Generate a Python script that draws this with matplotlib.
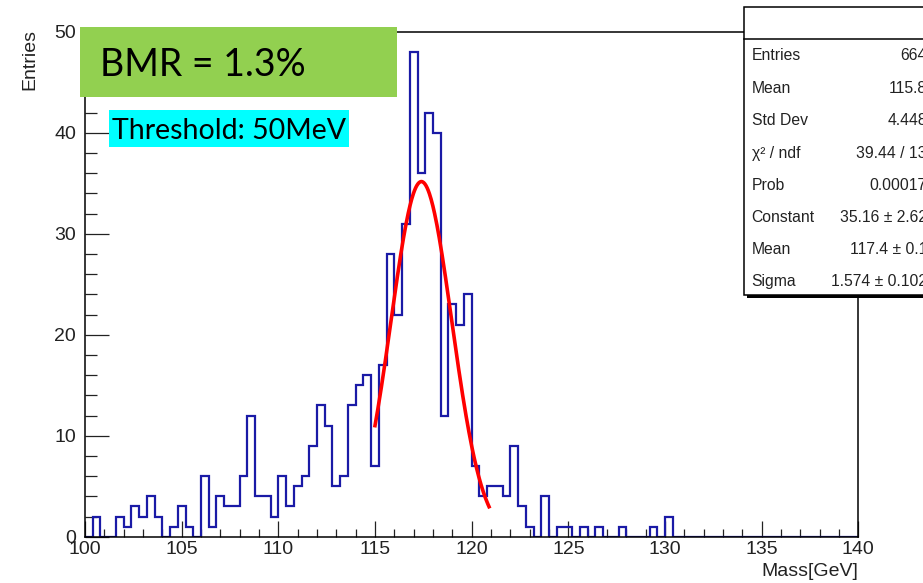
import numpy as np
import matplotlib
matplotlib.use("Agg")
from matplotlib import pyplot as plt
from matplotlib.patches import Rectangle

# histogram: 100 bins of 0.4 GeV between 100 and 140 GeV
x_min = 100
x_max = 140
n_bins = 100
counts = [0, 2, 0, 0, 2, 1, 3, 2, 4, 2,
          0, 1, 3, 1, 0, 6, 1, 4, 3, 3,
          6, 12, 4, 4, 2, 6, 3, 5, 6, 9,
          13, 11, 5, 6, 13, 15, 16, 7, 17, 28,
          22, 31, 48, 36, 42, 40, 12, 23, 21, 24,
          7, 4, 5, 5, 4, 9, 3, 1, 0, 4,
          0, 1, 1, 0, 1, 0, 1, 0, 0, 1,
          0, 0, 0, 1, 0, 2, 0, 0, 0, 0,
          0, 0, 0, 0, 0, 0, 0, 0, 0, 0,
          0, 0, 0, 0, 0, 0, 0, 0, 0, 0]

# gaussian fit result (from stat box)
fit_const = 35.16
fit_mean = 117.4
fit_sigma = 1.574
fit_lo = 115.0
fit_hi = 120.9

stat_names = ["Entries", "Mean", "Std Dev", "\u03c7\u00b2 / ndf", "Prob",
              "Constant", "Mean", "Sigma"]
stat_values = ["664", "115.8", "4.448", "39.44 / 13", "0.00017",
               "35.16 \u00b1 2.62", "117.4 \u00b1 0.1", "1.574 \u00b1 0.102"]

W, H = 923, 583
fig = plt.figure(figsize=(W / 100, H / 100), dpi=100)
ax = fig.add_axes([85 / W, (H - 536.7) / H, 773.3 / W, 505 / H])

edges = np.linspace(x_min, x_max, n_bins + 1)
ax.stairs(counts, edges, color='#1a1aa6', linewidth=1.6, zorder=2)

xf = np.linspace(fit_lo, fit_hi, 200)
yf = fit_const * np.exp(-0.5 * ((xf - fit_mean) / fit_sigma) ** 2)
ax.plot(xf, yf, color='red', linewidth=2.6, zorder=3)

ax.set_xlim(x_min, x_max)
ax.set_ylim(0, 50)
ax.set_xticks(range(100, 141, 5))
ax.set_xticks(range(100, 141, 1), minor=True)
ax.set_yticks(range(0, 51, 10))
ax.set_yticks(range(0, 51, 2), minor=True)
ax.tick_params(which='both', direction='in', width=0.9, labelsize=14,
               top=False, right=False, colors='#222222')
ax.tick_params(axis='x', which='major', length=11.5, pad=3)
ax.tick_params(axis='x', which='minor', length=5.8)
ax.tick_params(axis='y', which='major', length=17, pad=6.5)
ax.tick_params(axis='y', which='minor', length=8.5)
for lab in ax.get_xticklabels() + ax.get_yticklabels():
    lab.set_fontfamily('Liberation Sans')
for s in ax.spines.values():
    s.set_linewidth(1.1)
    s.set_zorder(4)

fig.text(30 / W, (H - 29) / H, "Entries", rotation=90, ha='center', va='top',
         fontsize=14, family='Liberation Sans', color='#222222')
fig.text(858 / W, (H - 572) / H, "Mass[GeV]", ha='right', va='center',
         fontsize=14, family='Liberation Sans', color='#222222')

# stat box (runs off the right edge)
fig.add_artist(Rectangle((746.5 / W, (H - 297.5) / H), 200 / W, 288 / H,
                         transform=fig.transFigure, facecolor='black',
                         edgecolor='none', zorder=6))
fig.add_artist(Rectangle((744 / W, (H - 295) / H), 200 / W, 288 / H,
                         transform=fig.transFigure, facecolor='white',
                         edgecolor='black', linewidth=1.1, zorder=7))
fig.add_artist(plt.Line2D([744 / W, 1], [(H - 39.3) / H, (H - 39.3) / H],
                          transform=fig.transFigure, color='black',
                          linewidth=1.1, zorder=8))
row_y = [56, 88.3, 120.7, 153.3, 185.7, 217.3, 250, 281.7]
for name, val, yy in zip(stat_names, stat_values, row_y):
    fig.text(751.5 / W, (H - yy) / H, name, ha='left', va='center',
             fontsize=11.3, family='Liberation Sans', zorder=9, color='#222222')
    fig.text(927 / W, (H - yy) / H, val, ha='right', va='center',
             fontsize=11.3, family='Liberation Sans', zorder=9, color='#222222')

# annotation boxes
fig.add_artist(Rectangle((80 / W, (H - 97.3) / H), 316.7 / W, 70.6 / H,
                         transform=fig.transFigure, facecolor='#92D050',
                         edgecolor='none', zorder=10))
fig.text(100 / W, (H - 76) / H, "BMR = 1.3%", ha='left', va='baseline',
         fontsize=27, family='Lato', zorder=11)
fig.add_artist(Rectangle((109 / W, (H - 147.3) / H), 240 / W, 37.3 / H,
                         transform=fig.transFigure, facecolor='#00FFFF',
                         edgecolor='none', zorder=10))
fig.text(112 / W, (H - 139.3) / H, "Threshold: 50MeV", ha='left',
         va='baseline', fontsize=20.5, family='Lato', zorder=11)

plt.savefig("out.png", dpi=100)
